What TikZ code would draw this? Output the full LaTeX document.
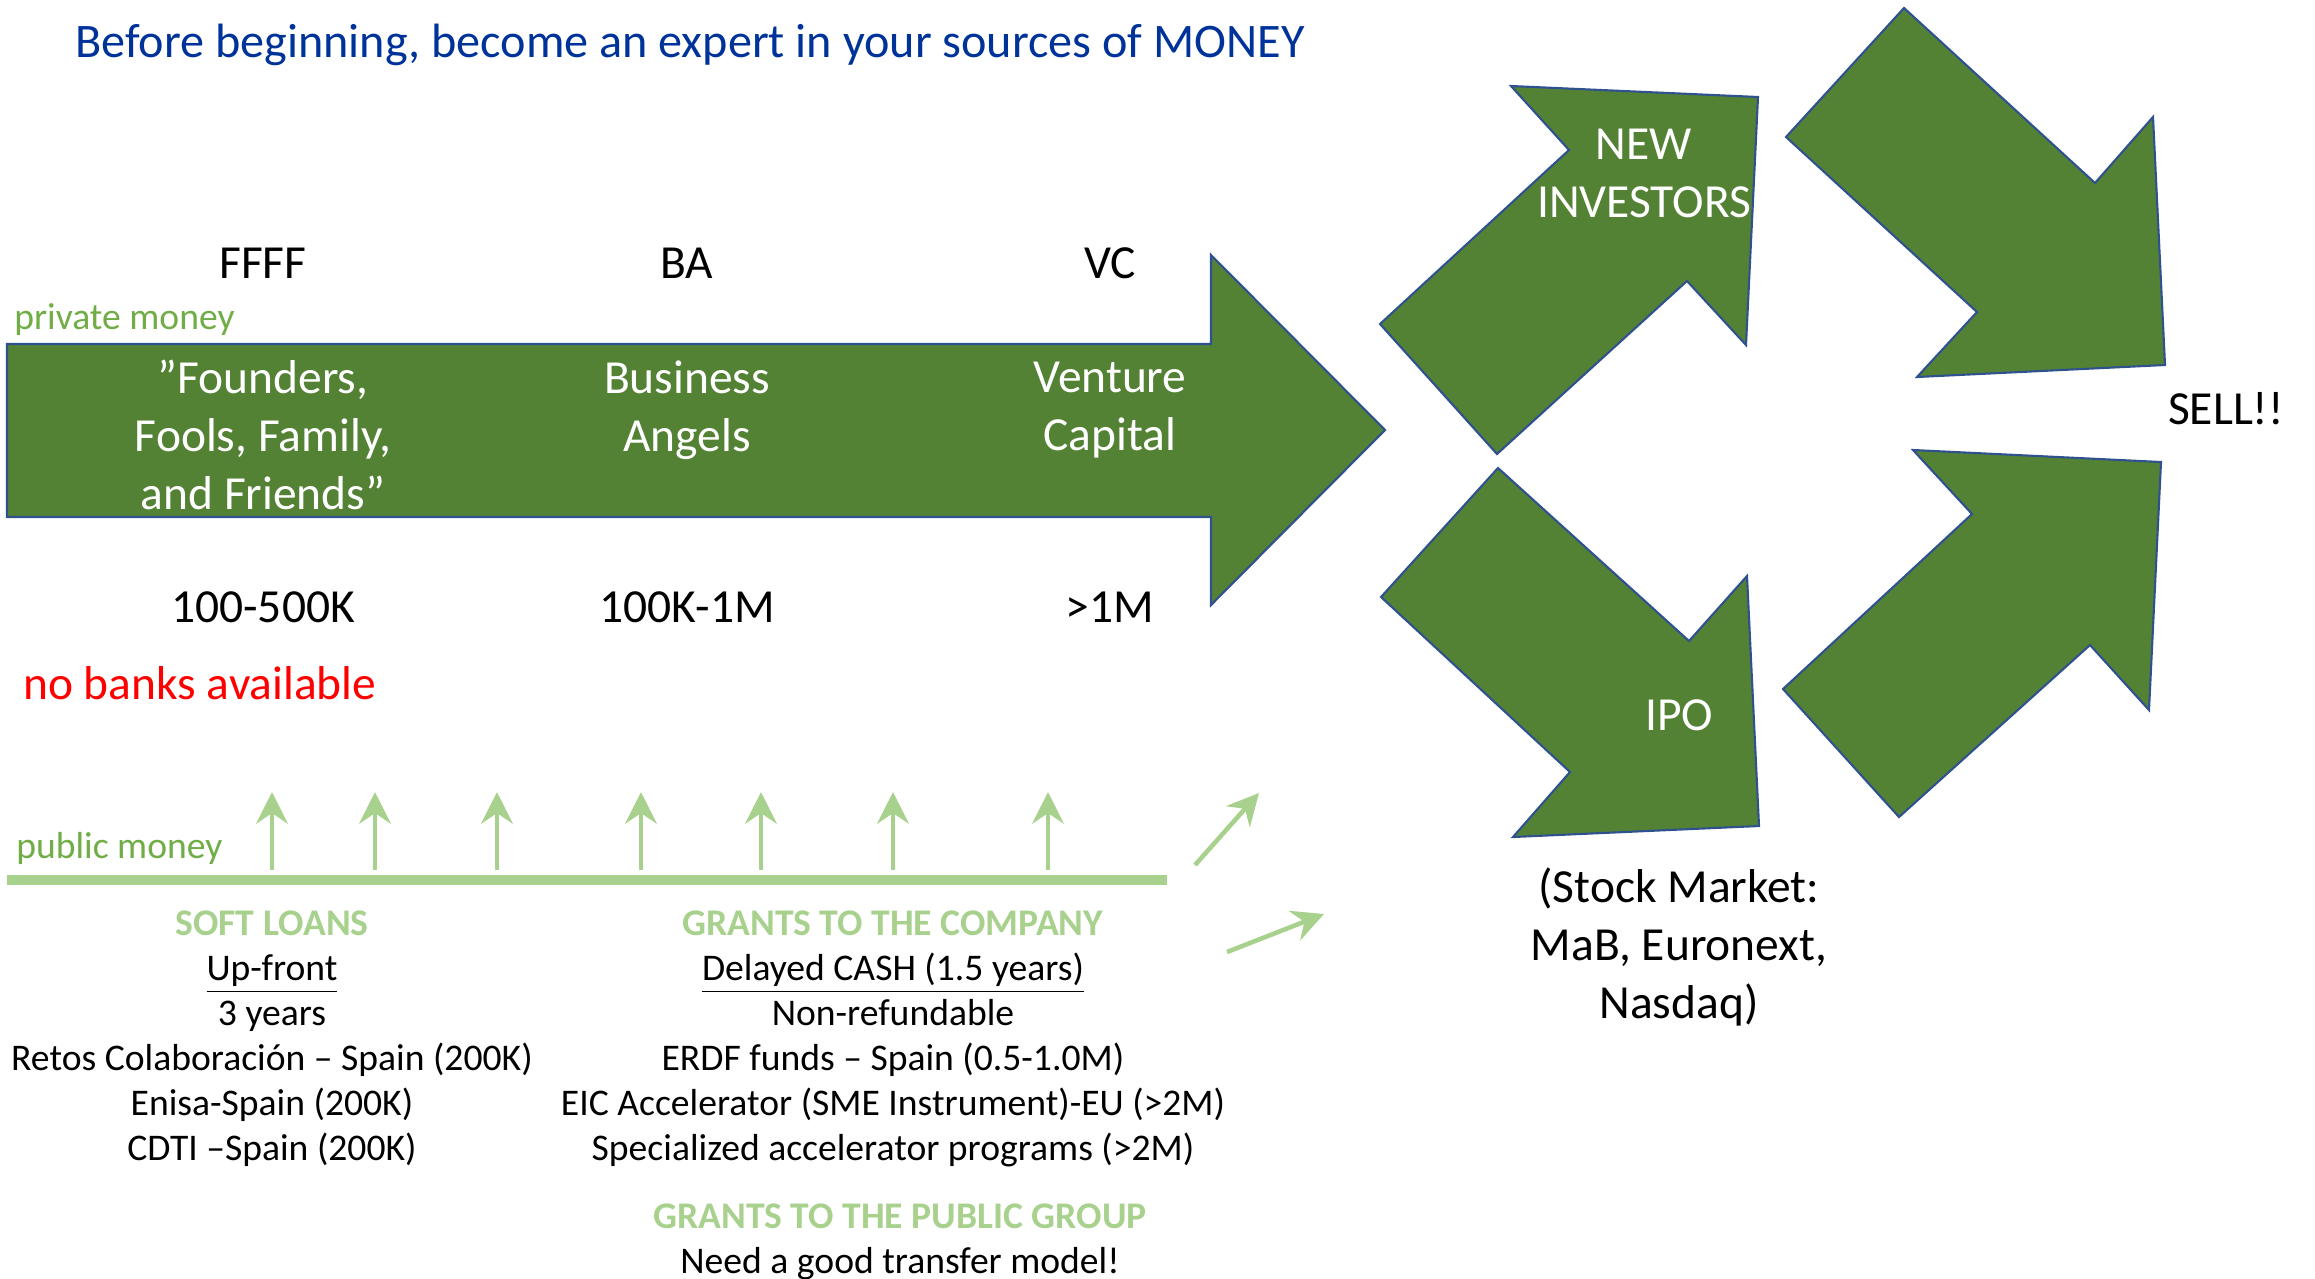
\documentclass[tikz,border=0pt]{standalone}
\usepackage{fontspec}
\setmainfont{Carlito}
\usetikzlibrary{arrows.meta}
\definecolor{darkgreen}{RGB}{84,130,53}
\definecolor{edgeblue}{RGB}{47,82,143}
\definecolor{palegreen}{RGB}{169,209,142}
\definecolor{moneygreen}{RGB}{112,173,71}
\definecolor{titleblue}{RGB}{0,51,153}
\tikzset{every picture/.style={line width=0.75pt}}
\tikzset{
  bigarrow/.style={fill=darkgreen,draw=edgeblue,line width=0.6pt,line join=miter},
  big/.style={font=\fontsize{13.5}{16.5}\selectfont,align=center,inner sep=0pt},
  small/.style={font=\fontsize{10.7}{12.8}\selectfont,align=center,inner sep=0pt},
  liftarrow/.style={draw=palegreen,line width=1.3pt,-{Stealth[length=9pt,width=9pt,inset=3pt]}}
}
\begin{document}
\begin{tikzpicture}[x=0.01cm,y=-0.01cm]
    \useasboundingbox (0,0) rectangle (2315,1278);
    \node[big,anchor=base,text=titleblue,font=\fontsize{13.7}{16.5}\selectfont] (title) at (690,57) {Before beginning, become an expert in your sources of MONEY};

    \draw[bigarrow] (7,344) -- (1211,344) -- (1211,255) -- (1385,430) -- (1211,605) -- (1211,517) -- (7,517) -- cycle;
    \draw[bigarrow] (1380,324) -- (1569,150) -- (1511,86) -- (1758,97) -- (1746,345) -- (1687,281) -- (1497,454) -- cycle;
    \draw[bigarrow] (1904,8) -- (2095,183) -- (2153,117) -- (2165,365) -- (1917,377) -- (1977,312) -- (1786,137) -- cycle;
    \draw[bigarrow] (1498,468) -- (1689,641) -- (1747,576) -- (1759,826) -- (1513,837) -- (1570,772) -- (1381,597) -- cycle;
    \draw[bigarrow] (1783,689) -- (1972,514) -- (1913,450) -- (2161,462) -- (2149,710) -- (2090,645) -- (1899,817) -- cycle;

    \node[big,anchor=base] (ffff) at (263,278) {FFFF};
    \node[big,anchor=base] (ba) at (687,278) {BA};
    \node[big,anchor=base] (vc) at (1110,278) {VC};
    \node[small,anchor=base west,text=moneygreen] (private) at (13,329) {private money};
    \node[big,text=white] (founders) at (263,435) {”Founders,\\Fools, Family,\\and Friends”};
    \node[big,text=white] (angels) at (687,410) {Business\\Angels};
    \node[big,text=white] (venture) at (1110,410) {Venture\\Capital};
    \node[big,anchor=base] (amountf) at (263,622) {100-500K};
    \node[big,anchor=base] (amountb) at (687,622) {100K-1M};
    \node[big,anchor=base] (amountv) at (1110,622) {>1M};
    \node[big,anchor=base west,text=red] (nobanks) at (22,699) {no banks available};

    \node[big,text=white] (investors) at (1644,173) {NEW\\INVESTORS};
    \node[big,anchor=base,text=white] (ipo) at (1679,730) {IPO};
    \node[big,anchor=base] (sell) at (2226,424) {SELL!!};
    \node[big] (stock) at (1679,947) {(Stock Market:\\MaB, Euronext,\\Nasdaq)};

    \node[small,anchor=base west,text=moneygreen] (public) at (15,858) {public money};
    \coordinate (linel) at (7,880);
    \coordinate (liner) at (1167,880);
    \draw[palegreen,line width=2.6pt] (linel) -- (liner);
    \foreach \x [count=\i] in {272,375,497,641,761,893,1048} {
        \coordinate (lo\i) at (\x,870);
        \coordinate (hi\i) at (\x,792);
        \draw[liftarrow] (lo\i) -- (hi\i);
    }
    \coordinate (d1a) at (1195,865);
    \coordinate (d1b) at (1259,793);
    \coordinate (d2a) at (1227,952);
    \coordinate (d2b) at (1324,914);
    \draw[liftarrow] (d1a) -- (d1b);
    \draw[liftarrow] (d2a) -- (d2b);

    \node[small] (loans) at (272,1039) {\textcolor{palegreen}{\textbf{SOFT LOANS}}\\\underline{Up-front}\\3 years\\Retos Colaboración – Spain (200K)\\Enisa-Spain (200K)\\CDTI –Spain (200K)};
    \node[small] (grants) at (893,1039) {\textcolor{palegreen}{\textbf{GRANTS TO THE COMPANY}}\\\underline{Delayed CASH (1.5 years)}\\Non-refundable\\ERDF funds – Spain (0.5-1.0M)\\EIC Accelerator (SME Instrument)-EU (>2M)\\Specialized accelerator programs (>2M)};
    \node[small] (group) at (900,1242) {\textcolor{palegreen}{\textbf{GRANTS TO THE PUBLIC GROUP}}\\Need a good transfer model!};
\end{tikzpicture}
\end{document}
